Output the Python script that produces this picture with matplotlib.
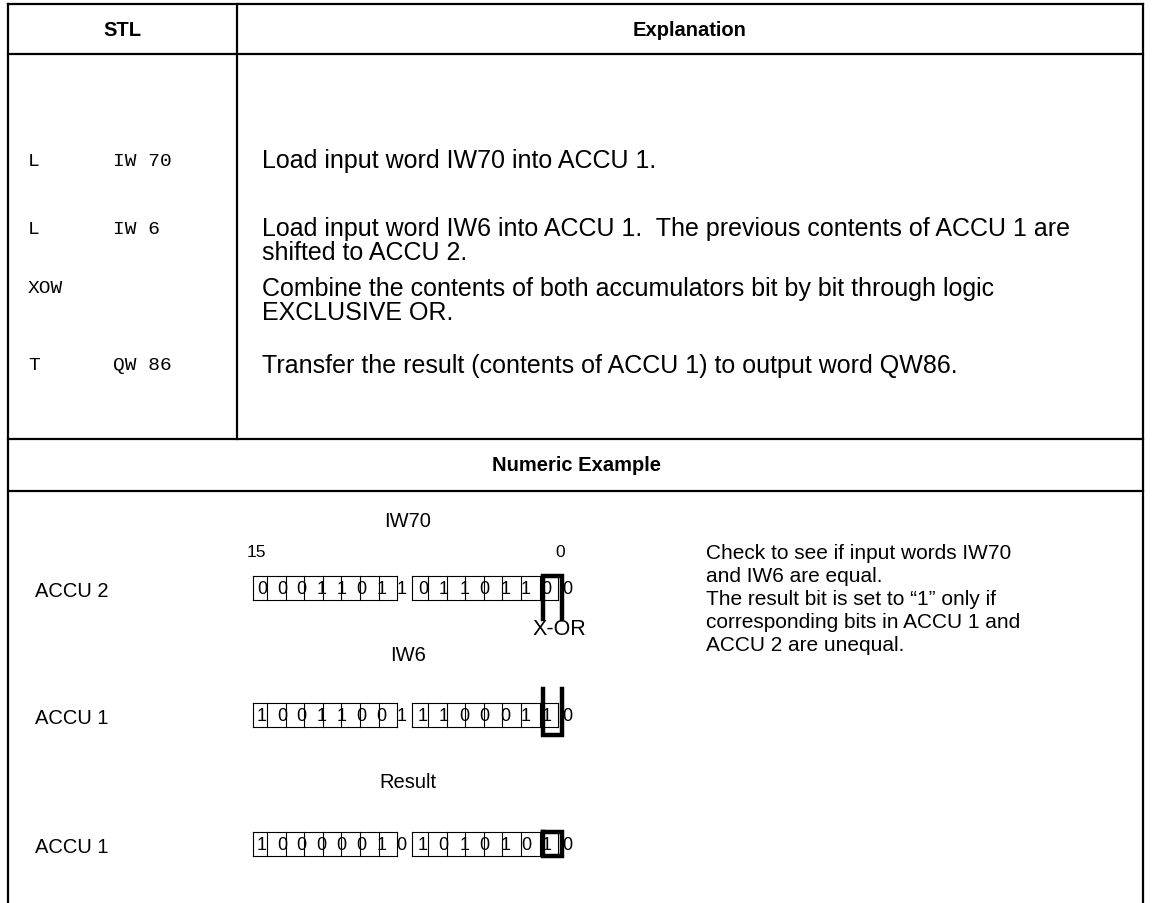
import matplotlib
matplotlib.use("Agg")
import matplotlib.pyplot as plt

plt.rcParams['font.family'] = ['Liberation Sans', 'DejaVu Sans']

# table text
stl_ops = ["L", "L", "XOW", "T"]
stl_args = ["IW 70", "IW 6", "", "QW 86"]
explanations = [
    ["Load input word IW70 into ACCU 1."],
    ["Load input word IW6 into ACCU 1.  The previous contents of ACCU 1 are",
     "shifted to ACCU 2."],
    ["Combine the contents of both accumulators bit by bit through logic",
     "EXCLUSIVE OR."],
    ["Transfer the result (contents of ACCU 1) to output word QW86."],
]
row_y = [161, 229, 289, 366]

# numeric example
accu2_bits = [0, 0, 0, 1, 1, 0, 1, 1, 0, 1, 1, 0, 1, 1, 0, 0]   # IW70
accu1_bits = [1, 0, 0, 1, 1, 0, 0, 1, 1, 1, 0, 0, 0, 1, 1, 0]   # IW6
result_bits = [1, 0, 0, 0, 0, 0, 1, 0, 1, 0, 1, 0, 1, 0, 1, 0]  # X-OR
reg_labels = ["ACCU 2", "ACCU 1", "ACCU 1"]
reg_titles = ["IW70", "IW6", "Result"]
note_lines = [
    "Check to see if input words IW70",
    "and IW6 are equal.",
    "The result bit is set to \u201c1\u201d only if",
    "corresponding bits in ACCU 1 and",
    "ACCU 2 are unequal.",
]

W, H = 1152, 904
fig = plt.figure(figsize=(W / 100, H / 100), dpi=100)
ax = fig.add_axes([0, 0, 1, 1])
ax.set_xlim(0, W)
ax.set_ylim(H, 0)
ax.axis('off')

lw = 1.6
k = 'black'
fs = 14.5
L, R, C = 8, 1143, 237

# table grid
ax.plot([L, R], [5, 5], color=k, lw=lw)
ax.plot([L, R], [55, 55], color=k, lw=lw)
ax.plot([L, R], [440, 440], color=k, lw=lw)
ax.plot([L, R], [492, 492], color=k, lw=lw)
ax.plot([L, L], [5, H], color=k, lw=lw)
ax.plot([R, R], [5, H], color=k, lw=lw)
ax.plot([C, C], [5, 440], color=k, lw=lw)

ax.text(122, 30, "STL", ha='center', va='center', fontsize=fs, fontweight='bold')
ax.text(690, 30, "Explanation", ha='center', va='center', fontsize=fs, fontweight='bold')
ax.text(576, 466, "Numeric Example", ha='center', va='center', fontsize=fs, fontweight='bold')

line_h = 24
for op, arg, lines, y in zip(stl_ops, stl_args, explanations, row_y):
    ax.text(28, y, op, ha='left', va='center', fontsize=14, family='Liberation Mono')
    ax.text(113, y, arg, ha='left', va='center', fontsize=14, family='Liberation Mono')
    for j, s in enumerate(lines):
        ax.text(262, y + j * line_h, s, ha='left', va='center', fontsize=18)

# registers
box_top = [577, 704, 833]
box_h = 24
title_y = [522, 656, 783]
byte_left = [253, 412]
edge0 = [267, 428]
edge_pitch = 18.6
digit0 = [262, 423]
digit_pitch = [19.9, 20.6]
thin = 0.8

for r, bits in enumerate([accu2_bits, accu1_bits, result_bits]):
    top = box_top[r]
    bot = top + box_h
    mid = top + box_h / 2 + 1
    ax.text(35, mid + 2, reg_labels[r], ha='left', va='center', fontsize=fs)
    ax.text(408, title_y[r], reg_titles[r], ha='center', va='center', fontsize=fs)
    for b in range(2):
        edges = [byte_left[b]] + [edge0[b] + edge_pitch * i for i in range(8)]
        ax.plot([edges[0], edges[-1]], [top, top], color=k, lw=thin)
        ax.plot([edges[0], edges[-1]], [bot, bot], color=k, lw=thin)
        for e in edges:
            ax.plot([e, e], [top, bot], color=k, lw=thin)
        for i in range(8):
            ax.text(digit0[b] + digit_pitch[b] * i, mid, str(bits[b * 8 + i]),
                    ha='center', va='center', fontsize=13)

ax.text(256, 553, "15", ha='center', va='center', fontsize=12.5)
ax.text(560, 553, "0", ha='center', va='center', fontsize=12.5)

# bold X-OR marker around bit 0
bx0, bx1 = 543, 562
blw = 3.2
ax.plot([bx0, bx0, bx1, bx1], [620, box_top[0], box_top[0], 620], color=k, lw=blw,
        solid_joinstyle='miter')
ax.text(586, 630, "X-OR", ha='right', va='center', fontsize=15.5)
ax.plot([bx0, bx0, bx1, bx1], [690, 736, 736, 690], color=k, lw=blw,
        solid_joinstyle='miter')
ax.plot([bx0, bx0, bx1, bx1, bx0], [box_top[2], box_top[2] + box_h, box_top[2] + box_h,
        box_top[2], box_top[2]], color=k, lw=blw, solid_joinstyle='miter')

for j, s in enumerate(note_lines):
    ax.text(706, 554 + j * 23, s, ha='left', va='center', fontsize=15)

fig.savefig("out.png", dpi=100)
